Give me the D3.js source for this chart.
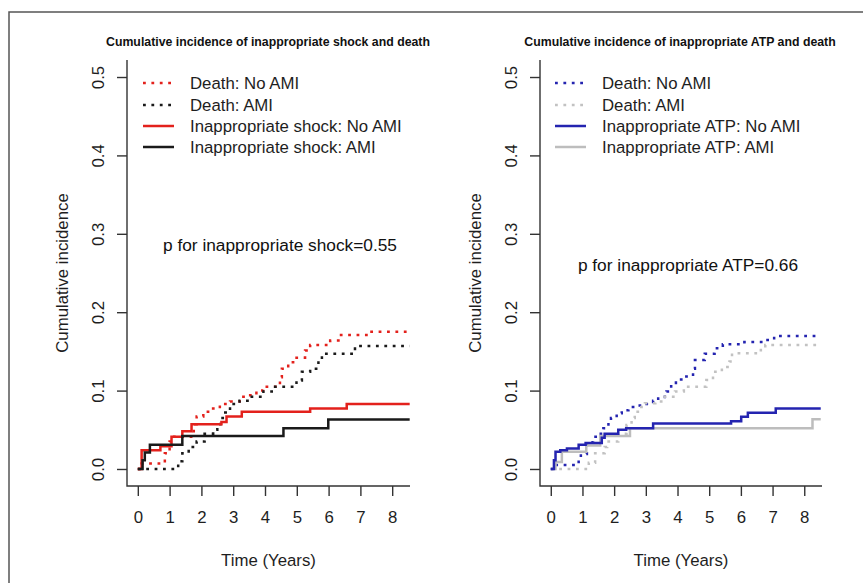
<!DOCTYPE html>
<html>
<head>
<meta charset="utf-8">
<script src="https://cdn.jsdelivr.net/npm/d3@7"></script>
<style>
  body { margin: 0; background: #fff; }
  svg { display: block; font-family: "Liberation Sans", Arial, sans-serif; }
</style>
</head>
<body>
<div id="chart"></div>
<script>
// tick values
const xTicks = [0, 1, 2, 3, 4, 5, 6, 7, 8];
const yTicks = [0, 0.1, 0.2, 0.3, 0.4, 0.5];

// left panel: inappropriate shock and death, [years, cumulative incidence]
const shockDeathNoAmi = [[0,0],[0.12,0.007],[0.85,0.02],[1.0,0.035],[1.1,0.041],[1.76,0.052],[1.8,0.057],[1.85,0.067],[2.06,0.073],[2.32,0.077],[2.58,0.083],[2.9,0.086],[3.2,0.092],[3.46,0.094],[3.73,0.1],[3.94,0.105],[4.47,0.117],[4.53,0.128],[4.73,0.136],[4.94,0.142],[5.26,0.151],[5.42,0.158],[6.05,0.164],[6.31,0.171],[7.25,0.175],[8.55,0.175]];
const shockDeathAmi = [[0,0],[1.27,0.01],[1.4,0.02],[1.6,0.028],[1.85,0.035],[2.1,0.045],[2.37,0.05],[2.5,0.057],[2.6,0.065],[2.75,0.072],[2.9,0.083],[3.2,0.087],[3.53,0.092],[3.95,0.099],[4.26,0.105],[4.99,0.113],[5.16,0.124],[5.42,0.128],[5.68,0.139],[5.79,0.147],[6.83,0.157],[8.55,0.157]];
const shockNoAmi = [[0,0],[0.12,0.024],[0.71,0.029],[1.06,0.041],[1.4,0.048],[1.69,0.057],[2.63,0.06],[2.79,0.067],[3.27,0.073],[5.42,0.077],[6.57,0.083],[8.55,0.083]];
const shockAmi = [[0,0],[0.15,0.011],[0.22,0.021],[0.38,0.031],[1.4,0.042],[4.58,0.052],[5.99,0.063],[8.55,0.063]];

// right panel: inappropriate ATP and death
const atpDeathNoAmi = [[0,0],[0.15,0.005],[0.88,0.012],[0.95,0.019],[1.14,0.034],[1.35,0.041],[1.5,0.045],[1.66,0.052],[1.82,0.061],[1.9,0.065],[2.08,0.071],[2.24,0.075],[2.45,0.079],[2.76,0.081],[2.97,0.083],[3.23,0.087],[3.39,0.09],[3.6,0.095],[3.65,0.099],[3.8,0.108],[3.95,0.114],[4.2,0.118],[4.49,0.128],[4.55,0.139],[4.86,0.147],[5.17,0.154],[5.43,0.159],[6.11,0.162],[6.69,0.1645],[6.9,0.1667],[7.05,0.1696],[8.52,0.1696]];
const atpDeathAmi = [[0,0],[1.2,0.008],[1.4,0.02],[1.7,0.028],[1.78,0.035],[2.13,0.045],[2.39,0.056],[2.55,0.065],[2.65,0.073],[2.81,0.079],[2.97,0.084],[3.3,0.086],[3.55,0.092],[3.92,0.099],[4.2,0.105],[4.91,0.1135],[5.12,0.124],[5.4,0.13],[5.64,0.137],[5.72,0.1475],[6.63,0.154],[6.77,0.158],[8.52,0.158]];
const atpNoAmi = [[0,0],[0.1,0.011],[0.15,0.022],[0.3,0.024],[0.51,0.026],[0.88,0.031],[1.1,0.033],[1.61,0.04],[1.7,0.045],[2.13,0.05],[2.38,0.052],[3.23,0.058],[5.69,0.061],[6.01,0.0667],[6.22,0.0718],[7.1,0.077],[8.52,0.077]];
const atpAmi = [[0,0],[0.15,0.009],[0.35,0.022],[1.12,0.03],[1.56,0.042],[2.5,0.052],[8.26,0.0635],[8.52,0.0635]];

const panels = [
  {
    left: 127, right: 410,
    title: "Cumulative incidence of inappropriate shock and death",
    titleX: 268,
    pText: "p for inappropriate shock=0.55", pX: 280, pY: 245,
    legendX: 143,
    series: [
      { label: "Death: No AMI", data: shockDeathNoAmi, color: "#e3211c", dotted: true },
      { label: "Death: AMI", data: shockDeathAmi, color: "#1a1a1a", dotted: true },
      { label: "Inappropriate shock: No AMI", data: shockNoAmi, color: "#e3211c", dotted: false },
      { label: "Inappropriate shock: AMI", data: shockAmi, color: "#1a1a1a", dotted: false }
    ]
  },
  {
    left: 540, right: 822,
    title: "Cumulative incidence of inappropriate ATP and death",
    titleX: 680,
    pText: "p for inappropriate ATP=0.66", pX: 688, pY: 265,
    legendX: 555,
    series: [
      { label: "Death: No AMI", data: atpDeathNoAmi, color: "#2424b0", dotted: true },
      { label: "Death: AMI", data: atpDeathAmi, color: "#c2c2c2", dotted: true },
      { label: "Inappropriate ATP: AMI", data: atpAmi, color: "#bdbdbd", dotted: false, legendIndex: 3 },
      { label: "Inappropriate ATP: No AMI", data: atpNoAmi, color: "#2424b0", dotted: false, legendIndex: 2 }
    ]
  }
];

const W = 863, H = 583;
const plotTop = 60, plotBottom = 486;

const svg = d3.select("#chart").append("svg")
  .attr("width", W).attr("height", H);

// outer frame (top and left edges only)
svg.append("path")
  .attr("d", `M9,${H} V12 H${W}`)
  .attr("fill", "none").attr("stroke", "#555").attr("stroke-width", 1.5);

panels.forEach(p => {
  const x = d3.scaleLinear().domain([-0.34, 8.56]).range([p.left, p.right]);
  const y = d3.scaleLinear().domain([-0.0217, 0.5217]).range([plotBottom, plotTop]);
  const g = svg.append("g");

  // L shaped box
  g.append("path")
    .attr("d", `M${p.left},${plotTop} V${plotBottom} H${p.right}`)
    .attr("fill", "none").attr("stroke", "#333").attr("stroke-width", 1.4);

  const xAxis = g.append("g")
    .attr("transform", `translate(0,${plotBottom})`)
    .call(d3.axisBottom(x).tickValues(xTicks).tickSize(10).tickPadding(15).tickFormat(d3.format("d")));
  xAxis.select(".domain").remove();
  xAxis.selectAll("line").attr("stroke", "#333").attr("stroke-width", 1.4);
  xAxis.selectAll("text").attr("font-size", "16.8px").attr("fill", "#1e1e1e")
    .attr("font-family", "Liberation Sans, Arial, sans-serif");

  const yAxis = g.append("g")
    .attr("transform", `translate(${p.left},0)`)
    .call(d3.axisLeft(y).tickValues(yTicks).tickSize(10).tickFormat(d3.format(".1f")));
  yAxis.select(".domain").remove();
  yAxis.selectAll("line").attr("stroke", "#333").attr("stroke-width", 1.4);
  yAxis.selectAll("text")
    .attr("x", null).attr("dy", "0.35em")
    .attr("text-anchor", "middle")
    .attr("transform", "translate(-29,0) rotate(-90)")
    .attr("font-size", "16.8px").attr("fill", "#1e1e1e")
    .attr("font-family", "Liberation Sans, Arial, sans-serif");

  // titles
  g.append("text")
    .attr("x", p.titleX).attr("y", 46)
    .attr("text-anchor", "middle")
    .attr("font-size", "12.3px").attr("font-weight", "bold").attr("fill", "#111")
    .text(p.title);

  g.append("text")
    .attr("x", (p.left + p.right) / 2).attr("y", 560)
    .attr("dy", "0.35em")
    .attr("text-anchor", "middle")
    .attr("font-size", "16.8px").attr("fill", "#1e1e1e")
    .text("Time (Years)");

  g.append("text")
    .attr("transform", `translate(${p.left - 65},${(plotTop + plotBottom) / 2}) rotate(-90)`)
    .attr("dy", "0.35em")
    .attr("text-anchor", "middle")
    .attr("font-size", "16.8px").attr("fill", "#1e1e1e")
    .text("Cumulative incidence");

  g.append("text")
    .attr("x", p.pX).attr("y", p.pY)
    .attr("dy", "0.35em")
    .attr("text-anchor", "middle")
    .attr("font-size", "17.3px").attr("fill", "#111")
    .text(p.pText);

  // step curves
  const line = d3.line()
    .x(d => x(d[0]))
    .y(d => y(d[1]))
    .curve(d3.curveStepAfter);

  p.series.forEach(s => {
    g.append("path")
      .datum(s.data)
      .attr("d", line)
      .attr("fill", "none")
      .attr("stroke", s.color)
      .attr("stroke-width", 2.5)
      .attr("stroke-dasharray", s.dotted ? "2.8,5.6" : null);
  });

  // legend
  const rows = [83, 105, 126, 147];
  p.series.forEach((s, i) => {
    const idx = s.legendIndex !== undefined ? s.legendIndex : i;
    const ry = rows[idx];
    g.append("line")
      .attr("x1", p.legendX).attr("x2", p.legendX + 31)
      .attr("y1", ry).attr("y2", ry)
      .attr("stroke", s.color).attr("stroke-width", 2.5)
      .attr("stroke-dasharray", s.dotted ? "2.8,5.6" : null);
    g.append("text")
      .attr("x", p.legendX + 47).attr("y", ry)
      .attr("dy", "0.35em")
      .attr("font-size", "16.8px").attr("fill", "#1e1e1e")
      .text(s.label);
  });
});
</script>
</body>
</html>
